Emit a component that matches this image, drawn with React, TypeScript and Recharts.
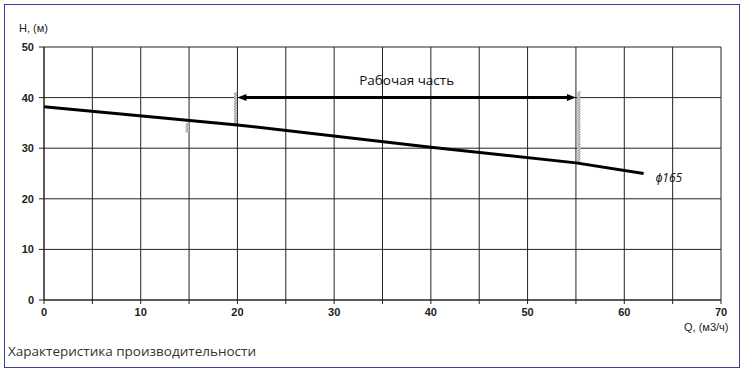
import React from 'react';
import { LineChart, Line, XAxis, YAxis, CartesianGrid, ReferenceLine, ReferenceDot } from 'recharts';

const flowQ = [0, 20, 40, 55, 62];
const headH = [38.2, 34.6, 30.2, 27.1, 25.0];
const xTicks = [0, 5, 10, 15, 20, 25, 30, 35, 40, 45, 50, 55, 60, 65, 70];
const yTicks = [0, 10, 20, 30, 40, 50];
const workingRange = [20, 55];
const arrowLevel = 40;
const leftHatch = { x: 19.8, from: 34.6, to: 41 };
const rightHatch = { x: 55.3, from: 27.1, to: 41.2 };
const smallMark = { x: 14.8, from: 33.2, to: 35 };
const workingLabel = { x: 37.5, y: 43.5, text: 'Рабочая часть' };
const curveLabel = { x: 62, y: 25, text: 'ϕ165' };

const data = flowQ.map((q, i) => ({ q, h: headH[i] }));

const font = 'Liberation Sans, Arial, sans-serif';

function ArrowShape(props: any) {
  const { x1, y1, x2, y2 } = props;
  const h = 9;
  const w = 3.5;
  return (
    <g>
      <line x1={x1 + h - 1} y1={y1} x2={x2 - h + 1} y2={y2} stroke="#000" strokeWidth={3} />
      <polygon points={`${x1},${y1} ${x1 + h},${y1 - w} ${x1 + h},${y1 + w}`} fill="#000" />
      <polygon points={`${x2},${y2} ${x2 - h},${y2 - w} ${x2 - h},${y2 + w}`} fill="#000" />
    </g>
  );
}

function HatchShape(props: any) {
  const { x1, y1, x2, y2 } = props;
  const top = Math.min(y1, y2);
  const bot = Math.max(y1, y2);
  const lines = [];
  for (let y = top; y < bot; y += 2.5) {
    lines.push(<line key={y} x1={x1 - 1.5} y1={y + 2} x2={x1 + 1.5} y2={y} stroke="#8a8a8a" strokeWidth={1} />);
  }
  return (
    <g>
      <rect x={x1 - 1.5} y={top} width={3} height={bot - top} fill="#d8d8d8" />
      {lines}
    </g>
  );
}

export default function App() {
  return (
    <div style={{ position: 'absolute', left: 0, top: 0, width: 746, height: 372, background: '#fff' }}>
      <div style={{ position: 'absolute', left: 4, top: 4, width: 734, height: 362, border: '1.5px solid #3a3f9e' }} />
      <div style={{ position: 'absolute', left: 0, top: 0 }}>
        <LineChart width={746} height={372} data={data} margin={{ top: 47, right: 25, bottom: 42, left: 4 }}>
          <CartesianGrid stroke="#222" strokeWidth={1} />
          <XAxis
            type="number"
            dataKey="q"
            domain={[0, 70]}
            ticks={xTicks}
            interval={0}
            height={30}
            tickSize={4}
            tickMargin={4}
            tickFormatter={(v: number) => (v % 10 === 0 ? String(v) : '')}
            axisLine={{ stroke: '#222' }}
            tickLine={{ stroke: '#222' }}
            tick={{ fontSize: 11, fontWeight: 'bold', fill: '#222', fontFamily: font }}
          />
          <YAxis
            type="number"
            domain={[0, 50]}
            ticks={yTicks}
            interval={0}
            width={40}
            tickSize={5}
            tickMargin={5}
            axisLine={{ stroke: '#222' }}
            tickLine={{ stroke: '#222' }}
            tick={{ fontSize: 11, fontWeight: 'bold', fill: '#222', fontFamily: font }}
          />
          <ReferenceLine
            segment={[{ x: smallMark.x, y: smallMark.from }, { x: smallMark.x, y: smallMark.to }]}
            shape={HatchShape}
          />
          <ReferenceLine
            segment={[{ x: leftHatch.x, y: leftHatch.from }, { x: leftHatch.x, y: leftHatch.to }]}
            shape={HatchShape}
          />
          <ReferenceLine
            segment={[{ x: rightHatch.x, y: rightHatch.from }, { x: rightHatch.x, y: rightHatch.to }]}
            shape={HatchShape}
          />
          <ReferenceLine
            segment={[{ x: workingRange[0], y: arrowLevel }, { x: workingRange[1], y: arrowLevel }]}
            shape={ArrowShape}
          />
          <Line
            type="linear"
            dataKey="h"
            stroke="#000"
            strokeWidth={3}
            dot={false}
            activeDot={false}
            isAnimationActive={false}
          />
          <ReferenceDot
            x={workingLabel.x}
            y={workingLabel.y}
            r={1}
            fill="none"
            stroke="none"
            label={{ value: workingLabel.text, position: 'center', fontSize: 13.5, fill: '#111', fontFamily: 'Open Sans, sans-serif' }}
          />
          <ReferenceDot
            x={curveLabel.x}
            y={curveLabel.y}
            r={1}
            fill="none"
            stroke="none"
            label={{ value: curveLabel.text, position: 'right', offset: 11, dy: 4, fontSize: 12, fill: '#111', fontStyle: 'italic', fontFamily: 'Open Sans, sans-serif' }}
          />
        </LineChart>
      </div>
      <div style={{ position: 'absolute', left: 19, top: 22, fontSize: 11, fontFamily: font, color: '#222' }}>H, (м)</div>
      <div style={{ position: 'absolute', left: 684, top: 321, fontSize: 11, fontFamily: font, color: '#222' }}>Q, (м3/ч)</div>
      <div style={{ position: 'absolute', left: 8, top: 342, fontSize: 13.5, fontFamily: 'Open Sans, sans-serif', color: '#333' }}>Характеристика производительности</div>
    </div>
  );
}
